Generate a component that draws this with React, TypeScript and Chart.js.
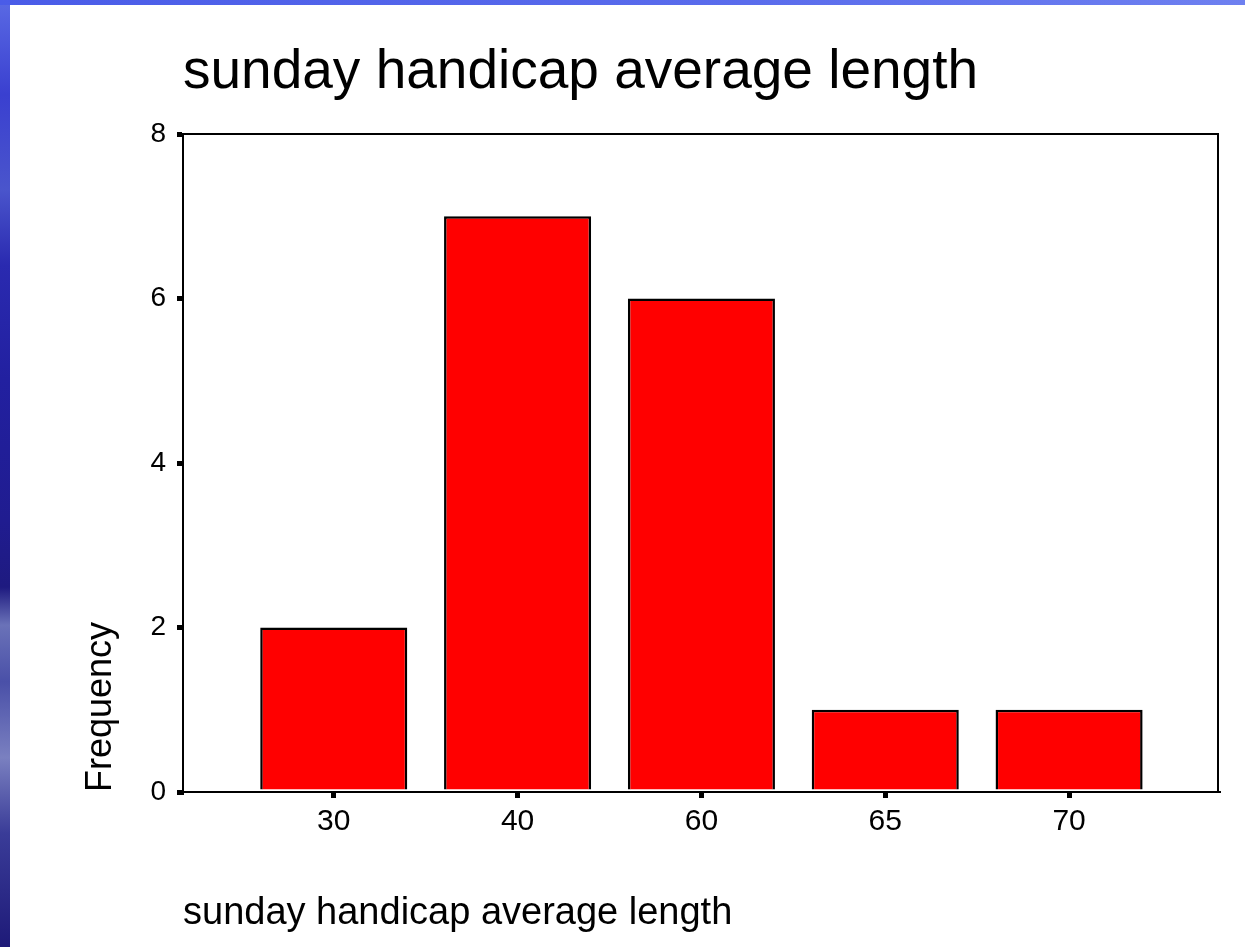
import React, { useEffect, useRef } from "react";
import { Chart, registerables } from "chart.js";

Chart.register(...registerables);

const categories: string[] = ["30", "40", "60", "65", "70"];
const frequencies: number[] = [2, 7, 6, 1, 1];
const yTicks: number[] = [0, 2, 4, 6, 8];
const chartTitle = "sunday handicap average length";
const xAxisTitle = "sunday handicap average length";
const yAxisTitle = "Frequency";

const FONT = "'Liberation Sans', Arial, Helvetica, sans-serif";

const frameBorder = {
  id: "frameBorder",
  afterDatasetsDraw(chart: any) {
    const { ctx, chartArea } = chart;
    ctx.save();
    ctx.strokeStyle = "#000";
    ctx.lineWidth = 2;
    ctx.beginPath();
    ctx.moveTo(chartArea.left, chartArea.top);
    ctx.lineTo(chartArea.right, chartArea.top);
    ctx.lineTo(chartArea.right, chartArea.bottom);
    ctx.stroke();
    ctx.restore();
  },
};

export default function App() {
  const ref = useRef<HTMLCanvasElement | null>(null);

  useEffect(() => {
    if (!ref.current) return;
    const chart = new Chart(ref.current, {
      type: "bar",
      data: {
        datasets: [
          {
            label: yAxisTitle,
            data: frequencies.map((v, i) => ({ x: i, y: v })),
            backgroundColor: "#ff0000",
            borderColor: "#000000",
            borderWidth: 2.5,
            categoryPercentage: 1,
            barPercentage: 0.8,
          },
        ],
      },
      options: {
        animation: false,
        responsive: false,
        maintainAspectRatio: false,
        layout: { padding: { left: 0, right: 27, top: 0, bottom: 0 } },
        plugins: {
          legend: { display: false },
          tooltip: { enabled: false },
          title: {
            display: true,
            text: chartTitle,
            align: "start",
            fullSize: false,
            color: "#000",
            font: { family: FONT, size: 55, weight: "normal" },
            padding: { top: 35, bottom: 28 },
          },
        },
        scales: {
          x: {
            type: "linear",
            min: -0.82,
            max: 4.81,
            offset: false,
            afterFit: (s: any) => {
              s.height = 155;
            },
            afterBuildTicks: (s: any) => {
              s.ticks = categories.map((_, i) => ({ value: i }));
            },
            ticks: {
              color: "#000",
              font: { family: FONT, size: 30 },
              padding: 6,
              maxRotation: 0,
              autoSkip: false,
              callback: (v: any) => categories[Math.round(Number(v))] ?? "",
            },
            grid: {
              offset: false,
              drawOnChartArea: false,
              drawTicks: true,
              tickLength: 6,
              lineWidth: 5,
              color: "#000",
            },
            border: { display: true, color: "#000", width: 2 },
            title: {
              display: true,
              text: xAxisTitle,
              align: "start",
              color: "#000",
              font: { family: FONT, size: 38 },
              padding: { top: 0, bottom: 11 },
            },
          },
          y: {
            min: 0,
            max: 8,
            afterFit: (s: any) => {
              s.width = 173;
            },
            afterBuildTicks: (s: any) => {
              s.ticks = yTicks.map((v) => ({ value: v }));
            },
            ticks: {
              color: "#000",
              font: { family: FONT, size: 28 },
              padding: 11,
            },
            grid: {
              drawOnChartArea: false,
              drawTicks: true,
              tickLength: 6,
              lineWidth: 5,
              color: "#000",
            },
            border: { display: true, color: "#000", width: 2 },
            title: {
              display: true,
              text: yAxisTitle,
              align: "start",
              color: "#000",
              font: { family: FONT, size: 36 },
              padding: { top: 69, bottom: 0 },
            },
          },
        },
      },
      plugins: [frameBorder],
    } as any);
    return () => chart.destroy();
  }, []);

  return (
    <div
      style={{
        position: "fixed",
        left: 0,
        top: 0,
        width: 1245,
        height: 947,
        overflow: "hidden",
        background:
          "linear-gradient(180deg, #5a6ae4 0%, #3a40d0 10%, #4a55cc 20%, #2a2ab0 28%, #2220a0 40%, #201c90 55%, #1e1a80 62%, #6a72b8 66%, #4a50a8 72%, #7a80c0 80%, #3a3c98 88%, #1e1a78 100%)",
      }}
    >
      <div
        style={{
          position: "absolute",
          left: 0,
          top: 0,
          width: 1245,
          height: 5,
          background: "linear-gradient(90deg, #4a5ce8 0%, #5a6cec 60%, #6e80f0 100%)",
        }}
      />
      <div
        style={{
          position: "absolute",
          left: 10,
          top: 5,
          width: 1235,
          height: 942,
          background: "#ffffff",
        }}
      >
        <canvas ref={ref} width={1235} height={942} style={{ display: "block" }} />
      </div>
    </div>
  );
}
